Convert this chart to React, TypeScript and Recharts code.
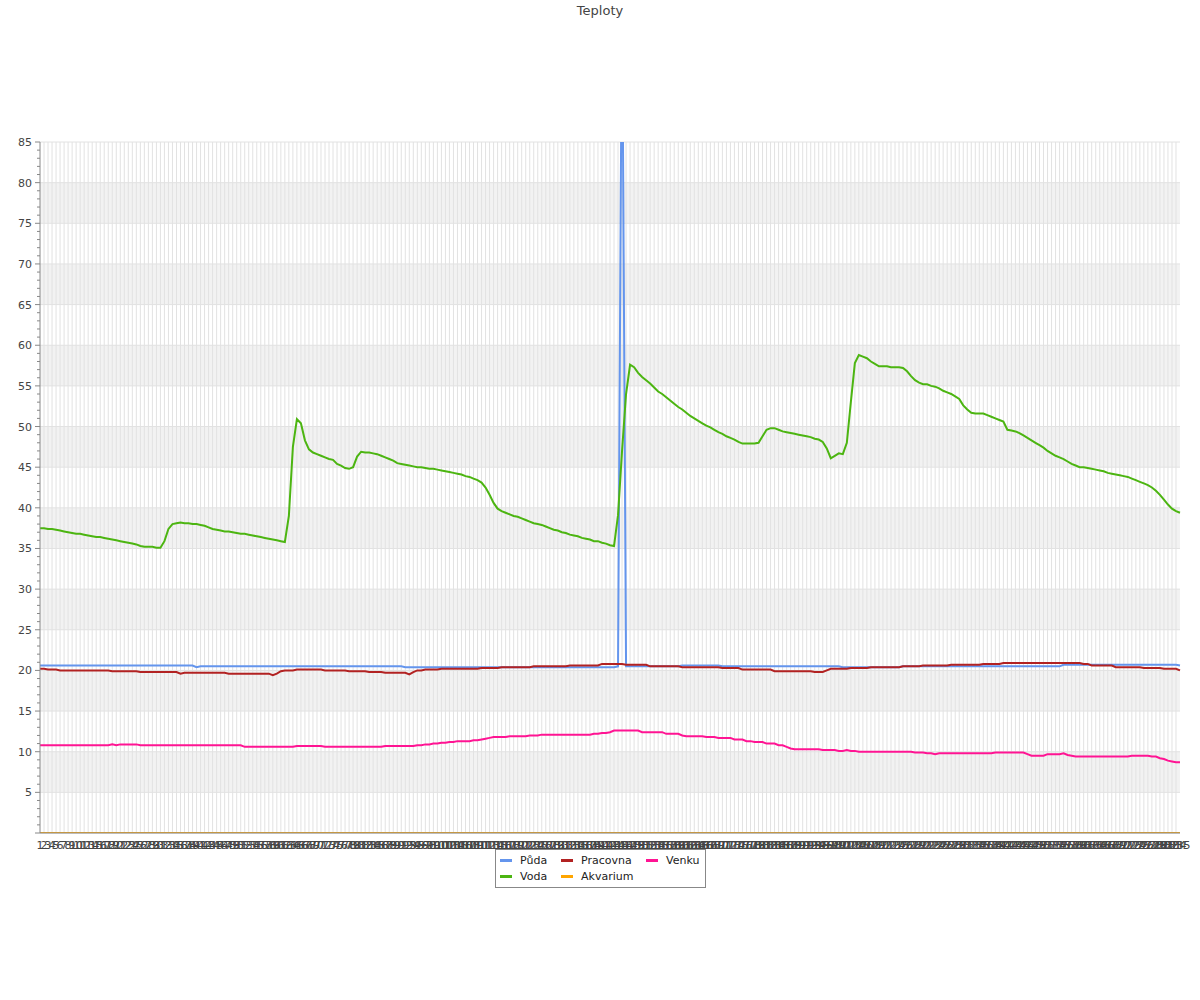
import React from 'react';
import { LineChart, Line, XAxis, YAxis, CartesianGrid } from 'recharts';

// 285 measurements, labelled 1..285
const labels = Array.from({ length: 285 }, (_, i) => String(i + 1));

const puda = [
  20.6, 20.6, 20.6, 20.6, 20.6, 20.6, 20.6, 20.6, 20.6, 20.6,
  20.6, 20.6, 20.6, 20.6, 20.6, 20.6, 20.6, 20.6, 20.6, 20.6,
  20.6, 20.6, 20.6, 20.6, 20.6, 20.6, 20.6, 20.6, 20.6, 20.6,
  20.6, 20.6, 20.6, 20.6, 20.6, 20.6, 20.6, 20.6, 20.6, 20.4,
  20.5, 20.5, 20.5, 20.5, 20.5, 20.5, 20.5, 20.5, 20.5, 20.5,
  20.5, 20.5, 20.5, 20.5, 20.5, 20.5, 20.5, 20.5, 20.5, 20.5,
  20.5, 20.5, 20.5, 20.5, 20.5, 20.5, 20.5, 20.5, 20.5, 20.5,
  20.5, 20.5, 20.5, 20.5, 20.5, 20.5, 20.5, 20.5, 20.5, 20.5,
  20.5, 20.5, 20.5, 20.5, 20.5, 20.5, 20.5, 20.5, 20.5, 20.5,
  20.5, 20.4, 20.4, 20.4, 20.4, 20.4, 20.4, 20.4, 20.4, 20.4,
  20.4, 20.4, 20.4, 20.4, 20.4, 20.4, 20.4, 20.4, 20.4, 20.4,
  20.4, 20.4, 20.4, 20.4, 20.4, 20.4, 20.4, 20.4, 20.4, 20.4,
  20.4, 20.4, 20.4, 20.4, 20.4, 20.4, 20.4, 20.4, 20.4, 20.4,
  20.4, 20.4, 20.4, 20.4, 20.4, 20.4, 20.4, 20.4, 20.4, 20.4,
  20.4, 20.4, 20.4, 20.4, 20.5, 105, 20.5, 20.5, 20.5, 20.5,
  20.5, 20.5, 20.5, 20.5, 20.5, 20.5, 20.5, 20.5, 20.5, 20.5,
  20.6, 20.6, 20.6, 20.6, 20.6, 20.6, 20.6, 20.6, 20.6, 20.6,
  20.5, 20.5, 20.5, 20.5, 20.5, 20.5, 20.5, 20.5, 20.5, 20.5,
  20.5, 20.5, 20.5, 20.5, 20.5, 20.5, 20.5, 20.5, 20.5, 20.5,
  20.5, 20.5, 20.5, 20.5, 20.5, 20.5, 20.5, 20.5, 20.5, 20.5,
  20.4, 20.4, 20.4, 20.4, 20.4, 20.4, 20.4, 20.4, 20.4, 20.4,
  20.4, 20.4, 20.4, 20.4, 20.4, 20.5, 20.5, 20.5, 20.5, 20.5,
  20.5, 20.5, 20.5, 20.5, 20.5, 20.5, 20.5, 20.5, 20.5, 20.5,
  20.5, 20.5, 20.5, 20.5, 20.5, 20.5, 20.5, 20.5, 20.5, 20.5,
  20.5, 20.5, 20.5, 20.5, 20.5, 20.5, 20.5, 20.5, 20.5, 20.5,
  20.5, 20.5, 20.5, 20.5, 20.5, 20.7, 20.7, 20.7, 20.7, 20.7,
  20.7, 20.7, 20.7, 20.7, 20.7, 20.7, 20.7, 20.7, 20.7, 20.7,
  20.7, 20.7, 20.7, 20.7, 20.7, 20.7, 20.7, 20.7, 20.7, 20.7,
  20.7, 20.7, 20.7, 20.7, 20.6,
];

const voda = [
  37.5, 37.5, 37.4, 37.4, 37.3, 37.2, 37.1, 37.0, 36.9, 36.8,
  36.8, 36.7, 36.6, 36.5, 36.4, 36.4, 36.3, 36.2, 36.1, 36.0,
  35.9, 35.8, 35.7, 35.6, 35.5, 35.3, 35.2, 35.2, 35.2, 35.1,
  35.1, 35.9, 37.4, 38.0, 38.1, 38.2, 38.1, 38.1, 38.0, 38.0,
  37.9, 37.8, 37.6, 37.4, 37.3, 37.2, 37.1, 37.1, 37.0, 36.9,
  36.8, 36.8, 36.7, 36.6, 36.5, 36.4, 36.3, 36.2, 36.1, 36.0,
  35.9, 35.8, 39.0, 47.5, 50.9, 50.4, 48.3, 47.2, 46.8, 46.6,
  46.4, 46.2, 46.0, 45.9, 45.4, 45.2, 44.9, 44.8, 45.0, 46.3,
  46.9, 46.8, 46.8, 46.7, 46.6, 46.4, 46.2, 46.0, 45.8, 45.5,
  45.4, 45.3, 45.2, 45.1, 45.0, 45.0, 44.9, 44.8, 44.8, 44.7,
  44.6, 44.5, 44.4, 44.3, 44.2, 44.1, 43.9, 43.8, 43.6, 43.4,
  43.1, 42.5, 41.6, 40.6, 39.9, 39.6, 39.4, 39.2, 39.0, 38.9,
  38.7, 38.5, 38.3, 38.1, 38.0, 37.9, 37.7, 37.5, 37.3, 37.2,
  37.0, 36.9, 36.7, 36.6, 36.5, 36.3, 36.2, 36.1, 35.9, 35.9,
  35.7, 35.6, 35.4, 35.3, 39.1, 47.0, 54.0, 57.6, 57.3, 56.6,
  56.1, 55.7, 55.3, 54.8, 54.3, 54.0, 53.6, 53.2, 52.8, 52.4,
  52.1, 51.7, 51.3, 51.0, 50.7, 50.4, 50.1, 49.9, 49.6, 49.3,
  49.1, 48.8, 48.6, 48.4, 48.1, 47.9, 47.9, 47.9, 47.9, 48.0,
  48.8, 49.6, 49.8, 49.8, 49.6, 49.4, 49.3, 49.2, 49.1, 49.0,
  48.9, 48.8, 48.7, 48.5, 48.4, 48.1, 47.3, 46.1, 46.4, 46.7,
  46.6, 48.0, 53.0, 57.8, 58.8, 58.6, 58.4, 58.0, 57.7, 57.4,
  57.4, 57.4, 57.3, 57.3, 57.3, 57.2, 56.8, 56.2, 55.7, 55.4,
  55.2, 55.2, 55.0, 54.9, 54.7, 54.4, 54.2, 54.0, 53.7, 53.4,
  52.6, 52.1, 51.7, 51.6, 51.6, 51.6, 51.4, 51.2, 51.0, 50.8,
  50.6, 49.6, 49.5, 49.4, 49.2, 48.9, 48.6, 48.3, 48.0, 47.7,
  47.4, 47.0, 46.7, 46.4, 46.2, 46.0, 45.7, 45.4, 45.2, 45.0,
  45.0, 44.9, 44.8, 44.7, 44.6, 44.5, 44.3, 44.2, 44.1, 44.0,
  43.9, 43.8, 43.6, 43.4, 43.2, 43.0, 42.8, 42.5, 42.1, 41.6,
  41.0, 40.4, 39.9, 39.6, 39.4,
];

const pracovna = [
  20.2, 20.2, 20.1, 20.1, 20.1, 20.0, 20.0, 20.0, 20.0, 20.0,
  20.0, 20.0, 20.0, 20.0, 20.0, 20.0, 20.0, 20.0, 19.9, 19.9,
  19.9, 19.9, 19.9, 19.9, 19.9, 19.8, 19.8, 19.8, 19.8, 19.8,
  19.8, 19.8, 19.8, 19.8, 19.8, 19.6, 19.7, 19.7, 19.7, 19.7,
  19.7, 19.7, 19.7, 19.7, 19.7, 19.7, 19.7, 19.6, 19.6, 19.6,
  19.6, 19.6, 19.6, 19.6, 19.6, 19.6, 19.6, 19.6, 19.4, 19.6,
  19.9, 20.0, 20.0, 20.0, 20.1, 20.1, 20.1, 20.1, 20.1, 20.1,
  20.1, 20.0, 20.0, 20.0, 20.0, 20.0, 20.0, 19.9, 19.9, 19.9,
  19.9, 19.9, 19.8, 19.8, 19.8, 19.8, 19.7, 19.7, 19.7, 19.7,
  19.7, 19.7, 19.5, 19.8, 20.0, 20.0, 20.1, 20.1, 20.1, 20.1,
  20.2, 20.2, 20.2, 20.2, 20.2, 20.2, 20.2, 20.2, 20.2, 20.2,
  20.3, 20.3, 20.3, 20.3, 20.3, 20.4, 20.4, 20.4, 20.4, 20.4,
  20.4, 20.4, 20.4, 20.5, 20.5, 20.5, 20.5, 20.5, 20.5, 20.5,
  20.5, 20.5, 20.6, 20.6, 20.6, 20.6, 20.6, 20.6, 20.6, 20.6,
  20.8, 20.8, 20.8, 20.8, 20.8, 20.8, 20.7, 20.7, 20.7, 20.7,
  20.7, 20.7, 20.5, 20.5, 20.5, 20.5, 20.5, 20.5, 20.5, 20.5,
  20.4, 20.4, 20.4, 20.4, 20.4, 20.4, 20.4, 20.4, 20.4, 20.4,
  20.3, 20.3, 20.3, 20.3, 20.3, 20.1, 20.1, 20.1, 20.1, 20.1,
  20.1, 20.1, 20.1, 19.9, 19.9, 19.9, 19.9, 19.9, 19.9, 19.9,
  19.9, 19.9, 19.9, 19.8, 19.8, 19.8, 20.0, 20.2, 20.2, 20.2,
  20.2, 20.2, 20.3, 20.3, 20.3, 20.3, 20.3, 20.4, 20.4, 20.4,
  20.4, 20.4, 20.4, 20.4, 20.4, 20.5, 20.5, 20.5, 20.5, 20.5,
  20.6, 20.6, 20.6, 20.6, 20.6, 20.6, 20.6, 20.7, 20.7, 20.7,
  20.7, 20.7, 20.7, 20.7, 20.7, 20.8, 20.8, 20.8, 20.8, 20.8,
  20.9, 20.9, 20.9, 20.9, 20.9, 20.9, 20.9, 20.9, 20.9, 20.9,
  20.9, 20.9, 20.9, 20.9, 20.9, 20.9, 20.9, 20.9, 20.9, 20.9,
  20.8, 20.8, 20.6, 20.6, 20.6, 20.6, 20.6, 20.6, 20.4, 20.4,
  20.4, 20.4, 20.4, 20.4, 20.4, 20.3, 20.3, 20.3, 20.3, 20.3,
  20.2, 20.2, 20.2, 20.2, 20.0,
];

const akvarium = [
  0, 0, 0, 0, 0, 0, 0, 0, 0, 0, 0, 0, 0, 0, 0, 0, 0, 0, 0, 0,
  0, 0, 0, 0, 0, 0, 0, 0, 0, 0, 0, 0, 0, 0, 0, 0, 0, 0, 0, 0,
  0, 0, 0, 0, 0, 0, 0, 0, 0, 0, 0, 0, 0, 0, 0, 0, 0, 0, 0, 0,
  0, 0, 0, 0, 0, 0, 0, 0, 0, 0, 0, 0, 0, 0, 0, 0, 0, 0, 0, 0,
  0, 0, 0, 0, 0, 0, 0, 0, 0, 0, 0, 0, 0, 0, 0, 0, 0, 0, 0, 0,
  0, 0, 0, 0, 0, 0, 0, 0, 0, 0, 0, 0, 0, 0, 0, 0, 0, 0, 0, 0,
  0, 0, 0, 0, 0, 0, 0, 0, 0, 0, 0, 0, 0, 0, 0, 0, 0, 0, 0, 0,
  0, 0, 0, 0, 0, 0, 0, 0, 0, 0, 0, 0, 0, 0, 0, 0, 0, 0, 0, 0,
  0, 0, 0, 0, 0, 0, 0, 0, 0, 0, 0, 0, 0, 0, 0, 0, 0, 0, 0, 0,
  0, 0, 0, 0, 0, 0, 0, 0, 0, 0, 0, 0, 0, 0, 0, 0, 0, 0, 0, 0,
  0, 0, 0, 0, 0, 0, 0, 0, 0, 0, 0, 0, 0, 0, 0, 0, 0, 0, 0, 0,
  0, 0, 0, 0, 0, 0, 0, 0, 0, 0, 0, 0, 0, 0, 0, 0, 0, 0, 0, 0,
  0, 0, 0, 0, 0, 0, 0, 0, 0, 0, 0, 0, 0, 0, 0, 0, 0, 0, 0, 0,
  0, 0, 0, 0, 0, 0, 0, 0, 0, 0, 0, 0, 0, 0, 0, 0, 0, 0, 0, 0,
  0, 0, 0, 0, 0,
];

const venku = [
  10.8, 10.8, 10.8, 10.8, 10.8, 10.8, 10.8, 10.8, 10.8, 10.8,
  10.8, 10.8, 10.8, 10.8, 10.8, 10.8, 10.8, 10.8, 10.9, 10.8,
  10.9, 10.9, 10.9, 10.9, 10.9, 10.8, 10.8, 10.8, 10.8, 10.8,
  10.8, 10.8, 10.8, 10.8, 10.8, 10.8, 10.8, 10.8, 10.8, 10.8,
  10.8, 10.8, 10.8, 10.8, 10.8, 10.8, 10.8, 10.8, 10.8, 10.8,
  10.8, 10.6, 10.6, 10.6, 10.6, 10.6, 10.6, 10.6, 10.6, 10.6,
  10.6, 10.6, 10.6, 10.6, 10.7, 10.7, 10.7, 10.7, 10.7, 10.7,
  10.7, 10.6, 10.6, 10.6, 10.6, 10.6, 10.6, 10.6, 10.6, 10.6,
  10.6, 10.6, 10.6, 10.6, 10.6, 10.6, 10.7, 10.7, 10.7, 10.7,
  10.7, 10.7, 10.7, 10.7, 10.8, 10.8, 10.9, 10.9, 11.0, 11.0,
  11.1, 11.1, 11.2, 11.2, 11.3, 11.3, 11.3, 11.3, 11.4, 11.4,
  11.5, 11.6, 11.7, 11.8, 11.8, 11.8, 11.8, 11.9, 11.9, 11.9,
  11.9, 11.9, 12.0, 12.0, 12.0, 12.1, 12.1, 12.1, 12.1, 12.1,
  12.1, 12.1, 12.1, 12.1, 12.1, 12.1, 12.1, 12.1, 12.2, 12.2,
  12.3, 12.3, 12.4, 12.6, 12.6, 12.6, 12.6, 12.6, 12.6, 12.6,
  12.4, 12.4, 12.4, 12.4, 12.4, 12.4, 12.2, 12.2, 12.2, 12.2,
  12.0, 11.9, 11.9, 11.9, 11.9, 11.9, 11.8, 11.8, 11.8, 11.7,
  11.7, 11.7, 11.7, 11.5, 11.5, 11.5, 11.3, 11.3, 11.2, 11.2,
  11.2, 11.0, 11.0, 11.0, 10.8, 10.8, 10.6, 10.4, 10.3, 10.3,
  10.3, 10.3, 10.3, 10.3, 10.3, 10.2, 10.2, 10.2, 10.2, 10.1,
  10.1, 10.2, 10.1, 10.1, 10.0, 10.0, 10.0, 10.0, 10.0, 10.0,
  10.0, 10.0, 10.0, 10.0, 10.0, 10.0, 10.0, 10.0, 9.9, 9.9,
  9.9, 9.8, 9.8, 9.7, 9.8, 9.8, 9.8, 9.8, 9.8, 9.8,
  9.8, 9.8, 9.8, 9.8, 9.8, 9.8, 9.8, 9.8, 9.9, 9.9,
  9.9, 9.9, 9.9, 9.9, 9.9, 9.9, 9.7, 9.5, 9.5, 9.5,
  9.5, 9.7, 9.7, 9.7, 9.7, 9.8, 9.6, 9.5, 9.4, 9.4,
  9.4, 9.4, 9.4, 9.4, 9.4, 9.4, 9.4, 9.4, 9.4, 9.4,
  9.4, 9.4, 9.5, 9.5, 9.5, 9.5, 9.5, 9.4, 9.4, 9.2,
  9.1, 8.9, 8.8, 8.7, 8.7,
];

const yTicks = Array.from({ length: 86 }, (_, i) => i);
const yGridValues = [0, 5, 10, 15, 20, 25, 30, 35, 40, 45, 50, 55, 60, 65, 70, 75, 80, 85];

const series = [
  { key: 'puda', name: 'Půda', color: '#6495ed' },
  { key: 'voda', name: 'Voda', color: '#4cb511' },
  { key: 'pracovna', name: 'Pracovna', color: '#b22222' },
  { key: 'akvarium', name: 'Akvarium', color: '#ffa500' },
  { key: 'venku', name: 'Venku', color: '#ff1493' },
];

const data = labels.map((label, i) => ({
  label,
  puda: puda[i],
  voda: voda[i],
  pracovna: pracovna[i],
  akvarium: akvarium[i],
  venku: venku[i],
}));

const FONT = '"DejaVu Sans", Verdana, sans-serif';

// y ticks: long mark + label every 5, short mark otherwise
const YTick = (props: any) => {
  const { x, y, payload } = props;
  const major = payload.value % 5 === 0;
  return (
    <g>
      <line x1={x - (major ? 5 : 3)} x2={x} y1={y} y2={y} stroke="#888" />
      {major && payload.value > 0 && (
        <text x={x - 8} y={y} dy={4} textAnchor="end" fontSize={11} fill="#444" fontFamily={FONT}>
          {payload.value}
        </text>
      )}
    </g>
  );
};

// legend order in the box: column by column
const legendCols = [
  [series[0], series[1]],
  [series[2], series[3]],
  [series[4]],
];

const App: React.FC = () => {
  return (
    <div style={{ position: 'absolute', left: 0, top: 0, width: 1200, height: 1000, fontFamily: FONT, background: '#fff' }}>
      <div style={{ position: 'absolute', top: 3, left: 0, width: 1200, textAlign: 'center', fontSize: 13, color: '#444', lineHeight: '16px' }}>
        Teploty
      </div>

      <LineChart width={1200} height={1000} data={data} margin={{ top: 142, right: 20, bottom: 137, left: 0 }}>
        <CartesianGrid
          stroke="#e2e2e2"
          horizontalValues={yGridValues}
          verticalValues={labels.slice(1, -1)}
          horizontalFill={['#ffffff', '#f2f2f2']}
          fillOpacity={1}
        />
        <XAxis
          dataKey="label"
          scale="point"
          interval={0}
          height={30}
          tickLine={false}
          stroke="#888"
          tick={{ fontSize: 11, fill: '#444', fontFamily: FONT }}
        />
        <YAxis
          type="number"
          domain={[0, 85]}
          allowDataOverflow
          ticks={yTicks}
          interval={0}
          width={40}
          tickSize={0}
          tickMargin={0}
          tickLine={false}
          stroke="#888"
          tick={<YTick />}
        />
        {series.map(s => (
          <Line
            key={s.key}
            type="linear"
            dataKey={s.key}
            name={s.name}
            stroke={s.color}
            strokeWidth={2}
            dot={false}
            isAnimationActive={false}
          />
        ))}
      </LineChart>

      <div
        style={{
          position: 'absolute',
          left: 495,
          top: 849,
          width: 205,
          height: 35,
          border: '1px solid #888',
          background: '#fff',
          display: 'flex',
          padding: '2px 0 0 4px',
          boxSizing: 'content-box',
          fontSize: 11,
          color: '#222',
        }}
      >
        {legendCols.map((col, ci) => (
          <div key={ci} style={{ width: ci === 0 ? 61 : ci === 1 ? 85 : 59 }}>
            {col.map(s => (
              <div key={s.key} style={{ height: 16, display: 'flex', alignItems: 'center' }}>
                <span style={{ display: 'inline-block', width: 12, height: 3, background: s.color, marginRight: 8 }} />
                <span>{s.name}</span>
              </div>
            ))}
          </div>
        ))}
      </div>
    </div>
  );
};

export default App;
